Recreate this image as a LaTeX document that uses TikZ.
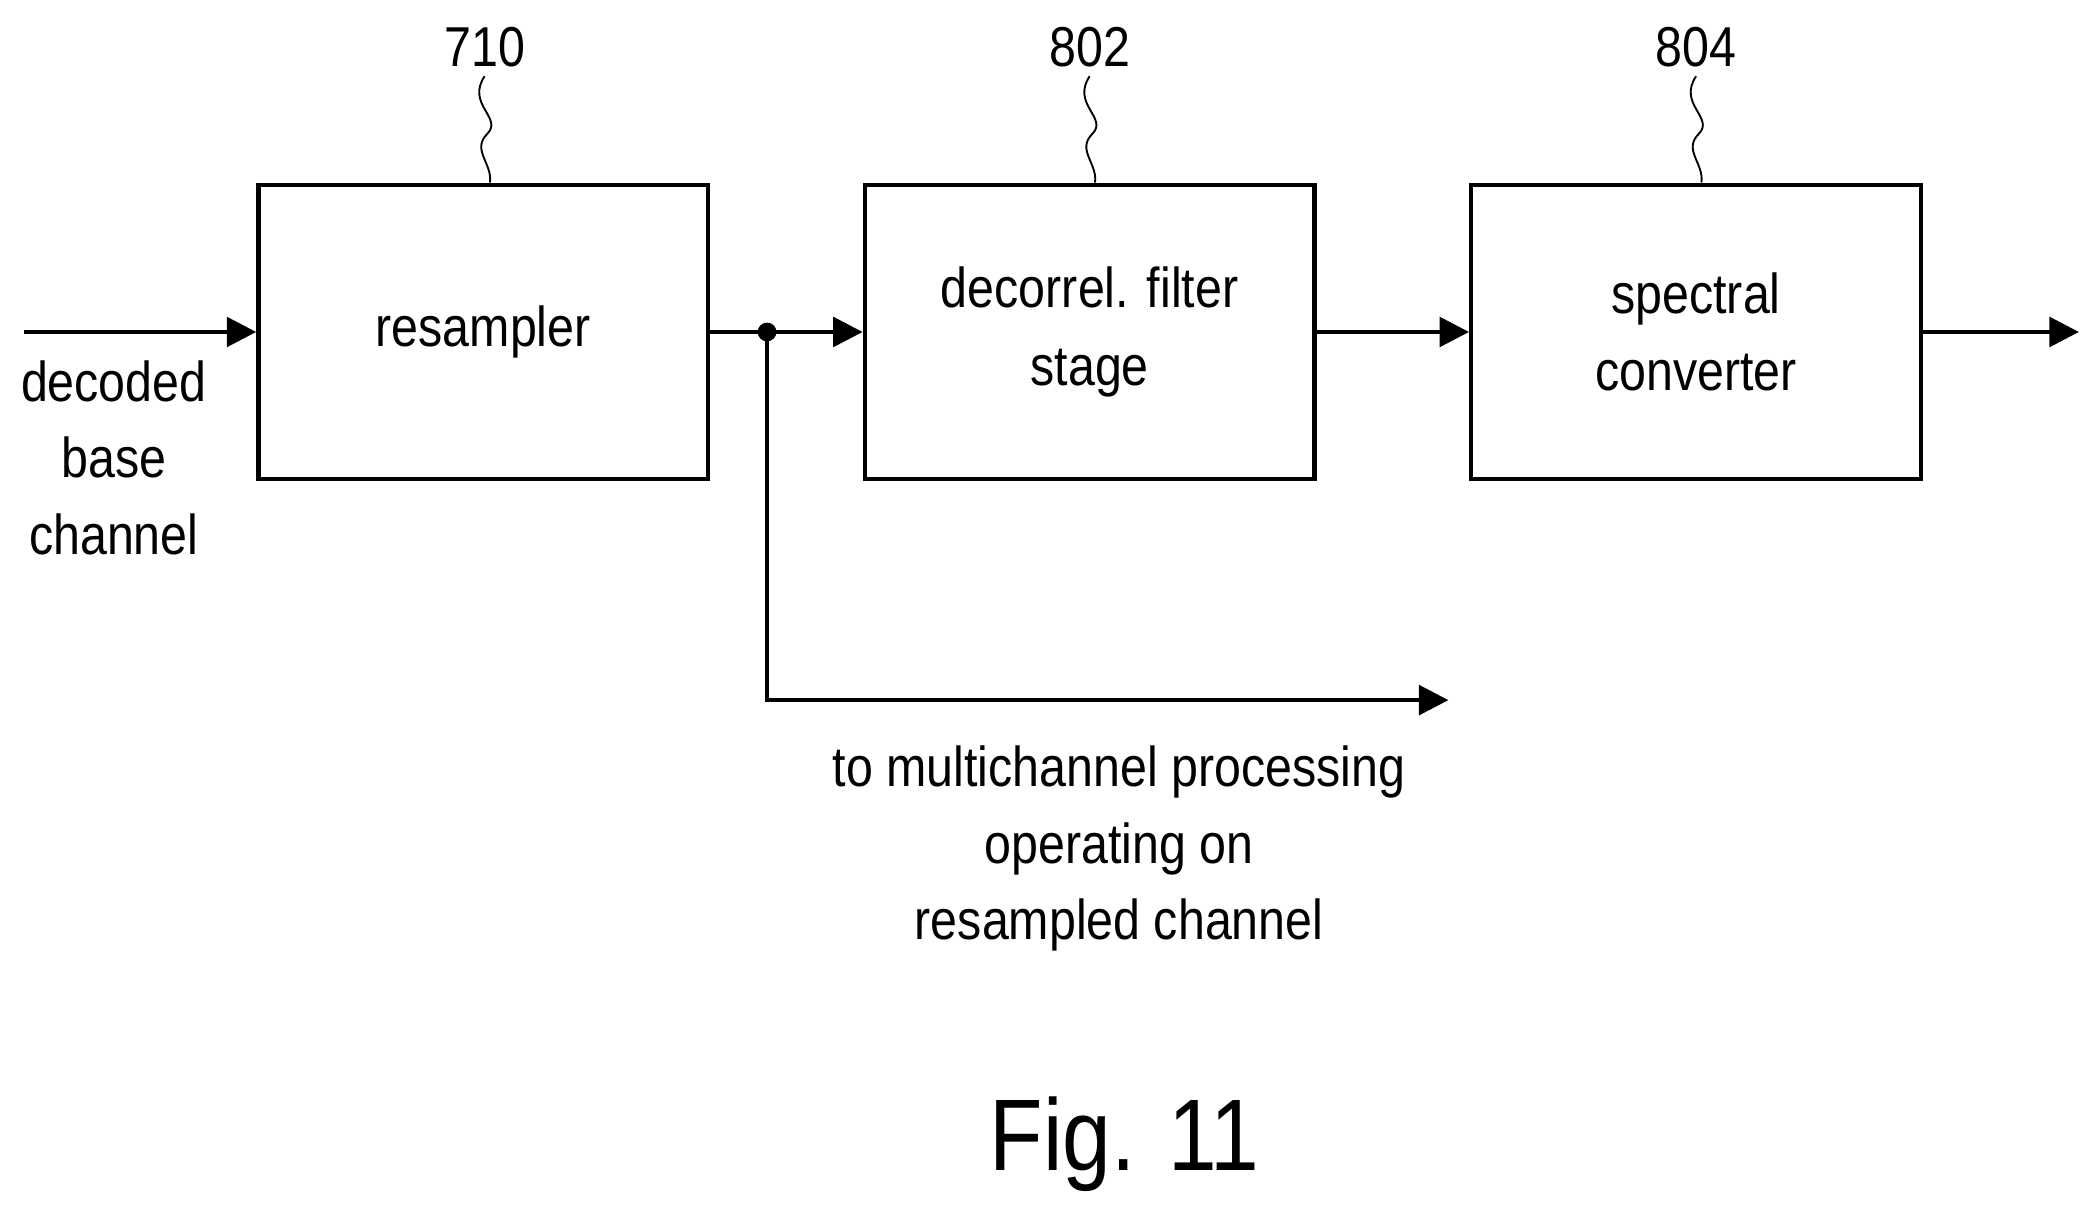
\documentclass[tikz,border=0pt]{standalone}
\usepackage{fontspec}
\setmainfont{Liberation Sans}[FakeStretch=0.86]
\usetikzlibrary{arrows.meta}
\begin{document}
\begin{tikzpicture}[x=0.5pt,y=-0.5pt,
  box/.style={draw,line width=1.6pt,minimum width=168pt,minimum height=110pt,align=center,font=\fontsize{21}{29}\selectfont},
  lbl/.style={align=center,font=\fontsize{21}{28.5}\selectfont},
  num/.style={font=\fontsize{21}{25}\selectfont},
  arr/.style={line width=1.6pt,-{Triangle[length=11pt,width=11pt]}},
  sq/.style={line width=0.7pt}]
\useasboundingbox (0,0) rectangle (1568,908);
\node[box] (r) at (361,248) {resampler};
\node[box] (d) at (814,248) {decorrel. filter\\stage};
\node[box] (s) at (1267,248) {spectral\\converter};
\node[num] (n1) at (362,35) {710};
\node[num] (n2) at (814,35) {802};
\node[num] (n3) at (1267,35) {804};
\foreach \n/\b/\x in {n1/r/362,n2/d/814,n3/s/1267}{
 \draw[sq] (\n.south) .. controls (\x-14,78) and (\x+14,88) .. (\x+2,100) .. controls (\x-10,112) and (\x+6,122) .. (\b.north -| {(\x+4,0)});
}
\coordinate (in) at (18,248);
\coordinate (out) at (1553,248);
\coordinate (j) at (573,248);
\coordinate (c) at (573,523);
\coordinate (e) at (1082,523);
\draw[arr] (in) -- (r.west);
\draw[line width=1.6pt] (r.east) -- (j);
\draw[arr] (j) -- (d.west);
\draw[arr] (d.east) -- (s.west);
\draw[arr] (s.east) -- (out);
\draw[arr] (j) -- (c) -- (e);
\fill (j) circle (7);
\node[lbl] (t1) at (85,342) {decoded\\base\\channel};
\node[lbl] (t2) at (836,634) {to multichannel processing\\operating on\\resampled channel};
\node[font=\fontsize{38}{40}\selectfont] (f) at (840,855) {Fig. 11};
\end{tikzpicture}
\end{document}
